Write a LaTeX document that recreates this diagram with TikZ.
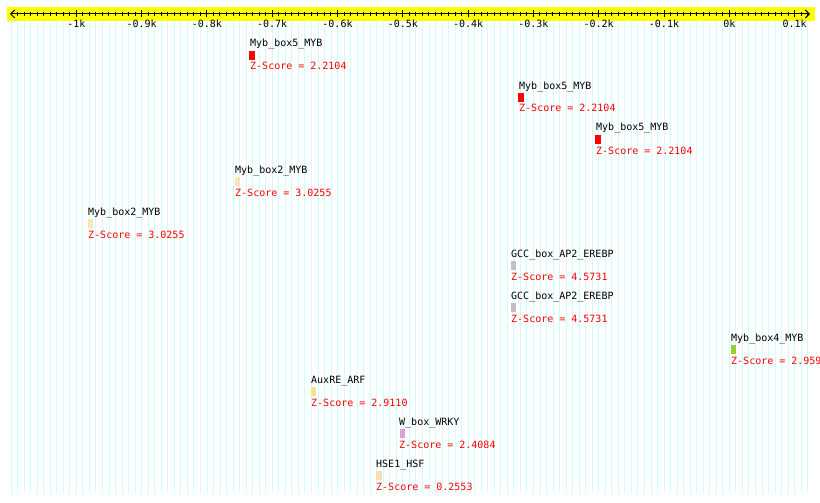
\documentclass[tikz,border=0pt]{standalone}
\usepackage{fontspec}
\newfontfamily\pixfont{DejaVu Sans Mono}
\usetikzlibrary{arrows.meta}
\definecolor{AxisYellow}{HTML}{FFFF00}
\definecolor{GridCyan}{HTML}{CCFFFF}
\definecolor{ScoreRed}{HTML}{FF0000}
\definecolor{MybRed}{HTML}{FF0000}
\definecolor{MybPeach}{HTML}{FFE4B5}
\definecolor{GccGray}{HTML}{C0C0C0}
\definecolor{MybGreen}{HTML}{9ACD32}
\definecolor{AuxKhaki}{HTML}{F0E68C}
\definecolor{WboxPlum}{HTML}{DDA0DD}
\definecolor{HseWheat}{HTML}{F5DEB3}
\tikzset{
  axisband/.style={fill=AxisYellow,draw=none,minimum width=808pt,minimum height=14pt,inner sep=0pt},
  axisline/.style={{Straight Barb[length=4pt,width=8pt]}-{Straight Barb[length=4pt,width=8pt]},line width=1pt,draw=black},
  majortick/.style={line width=1pt,draw=black},
  minortick/.style={line width=1pt,draw=black},
  gridline/.style={line width=0.8pt,draw=GridCyan},
  ticklabel/.style={font=\pixfont\fontsize{10}{12}\selectfont,inner sep=0pt,anchor=base},
  motifname/.style={font=\pixfont\fontsize{10}{12}\selectfont,inner sep=0pt,anchor=base west,text=black},
  motifbar/.style={draw=none,inner sep=0pt,minimum width=5pt,minimum height=9pt,anchor=north west},
  motifscore/.style={font=\pixfont\fontsize{10}{12}\selectfont,inner sep=0pt,anchor=base west,text=ScoreRed}
}
\begin{document}
\begin{tikzpicture}[x=1pt,y=-1pt]
\useasboundingbox[fill=white] (0,0) rectangle (820,503);
\foreach \v in {-1100,-1090,...,120}
  \draw[gridline] ({729.3+0.653*\v},21) -- ({729.3+0.653*\v},493);
\node[axisband] (band) at (411,14) {};
\foreach \v in {-1090,-1080,...,120}
  \draw[minortick] ({729.3+0.653*\v},11.7) -- ({729.3+0.653*\v},16.3);
\foreach \v in {-1000,-900,...,100}
  \draw[majortick] ({729.3+0.653*\v},10.5) -- ({729.3+0.653*\v},17.5);
\coordinate (axisL) at (10,14);
\coordinate (axisR) at (810,14);
\draw[axisline] (axisL) -- (axisR);
\foreach \v/\lab in {-1000/-1k,-900/-0.9k,-800/-0.8k,-700/-0.7k,-600/-0.6k,-500/-0.5k,-400/-0.4k,-300/-0.3k,-200/-0.2k,-100/-0.1k,0/0k,100/0.1k}
  \node[ticklabel] (lab\v) at ({729.3+0.653*\v},28) {\lab};
\node[motifname] (name1) at (250,47) {Myb\_box5\_MYB};
\node[motifbar,fill=MybRed,minimum width=6pt] (bar1) at (249,51) {};
\node[motifscore] (score1) at (250,70) {Z-Score = 2.2104};
\node[motifname] (name2) at (519,89) {Myb\_box5\_MYB};
\node[motifbar,fill=MybRed,minimum width=6pt] (bar2) at (518,93) {};
\node[motifscore] (score2) at (519,112) {Z-Score = 2.2104};
\node[motifname] (name3) at (596,131) {Myb\_box5\_MYB};
\node[motifbar,fill=MybRed,minimum width=6pt] (bar3) at (595,135) {};
\node[motifscore] (score3) at (596,154) {Z-Score = 2.2104};
\node[motifname] (name4) at (235,173) {Myb\_box2\_MYB};
\node[motifbar,fill=MybPeach] (bar4) at (235,177) {};
\node[motifscore] (score4) at (235,196) {Z-Score = 3.0255};
\node[motifname] (name5) at (88,215) {Myb\_box2\_MYB};
\node[motifbar,fill=MybPeach] (bar5) at (88,219) {};
\node[motifscore] (score5) at (88,238) {Z-Score = 3.0255};
\node[motifname] (name6) at (511,257) {GCC\_box\_AP2\_EREBP};
\node[motifbar,fill=GccGray] (bar6) at (511,261) {};
\node[motifscore] (score6) at (511,280) {Z-Score = 4.5731};
\node[motifname] (name7) at (511,299) {GCC\_box\_AP2\_EREBP};
\node[motifbar,fill=GccGray] (bar7) at (511,303) {};
\node[motifscore] (score7) at (511,322) {Z-Score = 4.5731};
\node[motifname] (name8) at (731,341) {Myb\_box4\_MYB};
\node[motifbar,fill=MybGreen] (bar8) at (731,345) {};
\node[motifscore] (score8) at (731,364) {Z-Score = 2.959};
\node[motifname] (name9) at (311,383) {AuxRE\_ARF};
\node[motifbar,fill=AuxKhaki] (bar9) at (311,387) {};
\node[motifscore] (score9) at (311,406) {Z-Score = 2.9110};
\node[motifname] (name10) at (399,425) {W\_box\_WRKY};
\node[motifbar,fill=WboxPlum] (bar10) at (400,429) {};
\node[motifscore] (score10) at (399,448) {Z-Score = 2.4084};
\node[motifname] (name11) at (376,467) {HSE1\_HSF};
\node[motifbar,fill=HseWheat,minimum width=6pt] (bar11) at (376,471) {};
\node[motifscore] (score11) at (376,490) {Z-Score = 0.2553};
\end{tikzpicture}
\end{document}
